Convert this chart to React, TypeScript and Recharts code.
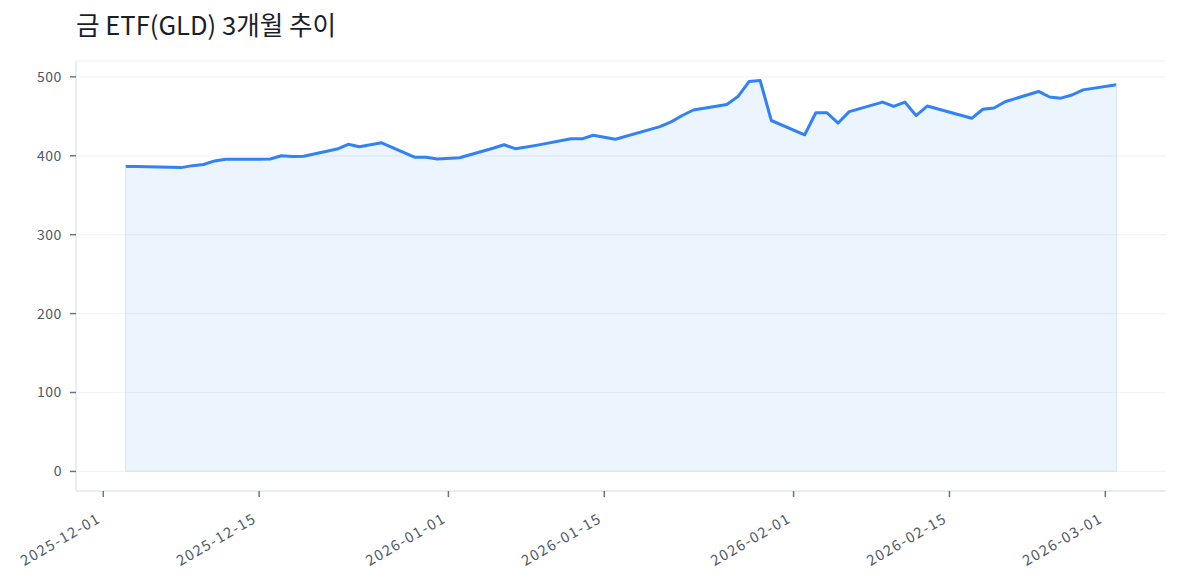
import { ComposedChart, Area, XAxis, YAxis, CartesianGrid, ReferenceLine } from 'recharts'

const dates = [
  '2025-12-03', '2025-12-04', '2025-12-05', '2025-12-08', '2025-12-09', '2025-12-10', '2025-12-11', '2025-12-12',
  '2025-12-15', '2025-12-16', '2025-12-17', '2025-12-18', '2025-12-19', '2025-12-22', '2025-12-23', '2025-12-24',
  '2025-12-26', '2025-12-29', '2025-12-30', '2025-12-31', '2026-01-02', '2026-01-05', '2026-01-06', '2026-01-07',
  '2026-01-08', '2026-01-09', '2026-01-12', '2026-01-13', '2026-01-14', '2026-01-15', '2026-01-16', '2026-01-20',
  '2026-01-21', '2026-01-22', '2026-01-23', '2026-01-26', '2026-01-27', '2026-01-28', '2026-01-29', '2026-01-30',
  '2026-02-02', '2026-02-03', '2026-02-04', '2026-02-05', '2026-02-06', '2026-02-09', '2026-02-10', '2026-02-11',
  '2026-02-12', '2026-02-13', '2026-02-17', '2026-02-18', '2026-02-19', '2026-02-20', '2026-02-23', '2026-02-24',
  '2026-02-25', '2026-02-26', '2026-02-27', '2026-03-02',
]

const closes = [
  386.5, 386.5, 386, 385, 387.5, 389, 393.5, 395.5,
  395.5, 396, 400, 399, 399.5, 408.5, 414.5, 411.5,
  416.5, 398, 398, 396, 397.5, 409.5, 414, 409,
  411, 413.5, 421.5, 421.5, 426, 423.5, 421, 437,
  443, 451, 458, 465, 475, 494, 495.3, 444.7,
  426.6, 454.5, 454.5, 441.5, 456, 468, 462.5, 468,
  451, 463, 447.5, 459, 460.5, 468.5, 481.5, 474.5,
  473, 477, 483.5, 490,
]

const xTickDates = ['2025-12-01', '2025-12-15', '2026-01-01', '2026-01-15', '2026-02-01', '2026-02-15', '2026-03-01']
const yTicks = [0, 100, 200, 300, 400, 500]

const DAY = 86400000
const origin = Date.parse(xTickDates[0])
const toDay = (s: string) => (Date.parse(s) - origin) / DAY

const data = dates.map((d, i) => ({ d: toDay(d), date: d, close: closes[i] }))
const xTicks = xTickDates.map(toDay)
const labelFor = (v: number) => xTickDates[xTicks.indexOf(v)] ?? ''
const first = data[0]
const last = data[data.length - 1]

const FONT = '"Noto Sans CJK KR", "Noto Sans", sans-serif'
const BLUE = '#3182f6'
const EDGE = '#d9e7fd'

function DateTick({ x, y, payload }: any) {
  return (
    <g transform={`translate(${x - 1.5},${y + 22.5})`}>
      <text
        textAnchor="end"
        transform="rotate(-30)"
        fill="#4e5968"
        fontSize={14.5}
        letterSpacing={1.5}
        fontFamily={FONT}
      >
        {labelFor(payload.value)}
      </text>
    </g>
  )
}

export default function App() {
  return (
    <div style={{ position: 'absolute', left: 0, top: 0, width: 1180, height: 585, background: '#fff' }}>
      <svg width={1180} height={50} style={{ position: 'absolute', left: 0, top: 0 }}>
        <text x={76} y={35} fontSize={25.6} fontFamily={FONT} fill="#191f28">
          금 ETF(GLD) 3개월 추이
        </text>
      </svg>
      <div style={{ position: 'absolute', left: 0, top: 0 }}>
        <ComposedChart width={1180} height={585} data={data} margin={{ top: 61, right: 14, bottom: 0, left: 16 }}>
          <CartesianGrid stroke="#f2f4f6" strokeWidth={1.2} vertical={false} />
          <XAxis
            dataKey="d"
            type="number"
            domain={[-2.45, 95.45]}
            allowDataOverflow
            ticks={xTicks}
            interval={0}
            height={94}
            tick={<DateTick />}
            tickSize={6}
            tickLine={{ stroke: '#6b7684', strokeWidth: 1.5 }}
            axisLine={{ stroke: '#e5e8eb', strokeWidth: 1.5 }}
          />
          <YAxis
            type="number"
            domain={[-24.8, 520.1]}
            allowDataOverflow
            ticks={yTicks}
            interval={0}
            width={60}
            tickSize={6}
            tickMargin={8}
            tick={{ fill: '#4e5968', fontSize: 14, letterSpacing: 0.6, fontFamily: FONT }}
            tickLine={{ stroke: '#6b7684', strokeWidth: 1.5 }}
            axisLine={{ stroke: '#e5e8eb', strokeWidth: 1.5 }}
          />
          <Area
            type="linear"
            dataKey="close"
            baseValue={0}
            stroke="none"
            fill={BLUE}
            fillOpacity={0.09}
            dot={false}
            activeDot={false}
            isAnimationActive={false}
          />
          <ReferenceLine segment={[{ x: first.d, y: 0 }, { x: first.d, y: first.close }]} stroke={EDGE} strokeWidth={1.2} />
          <ReferenceLine segment={[{ x: last.d, y: 0 }, { x: last.d, y: last.close }]} stroke={EDGE} strokeWidth={1.2} />
          <ReferenceLine segment={[{ x: first.d, y: 0 }, { x: last.d, y: 0 }]} stroke={EDGE} strokeWidth={1.2} />
          <Area
            type="linear"
            dataKey="close"
            baseValue={0}
            stroke={BLUE}
            strokeWidth={3}
            strokeLinejoin="round"
            fill="none"
            dot={false}
            activeDot={false}
            isAnimationActive={false}
          />
        </ComposedChart>
      </div>
    </div>
  )
}
